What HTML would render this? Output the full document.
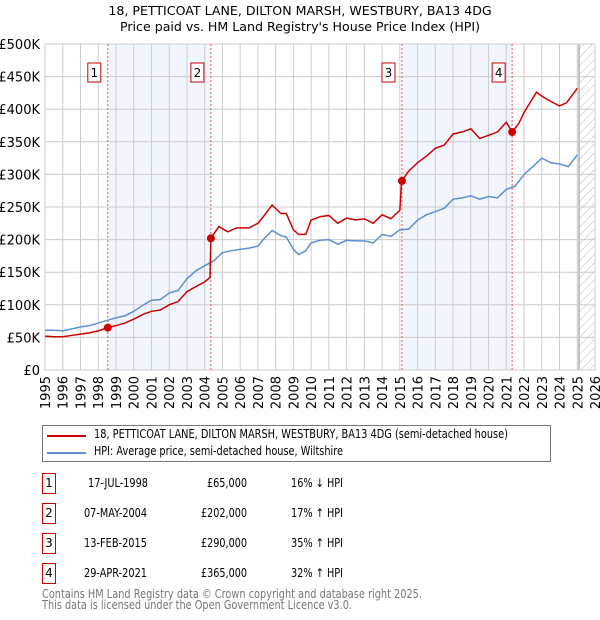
<!DOCTYPE html>
<html><head><meta charset="utf-8"><style>
body{margin:0;background:#fff;font-family:"DejaVu Sans","Liberation Sans",sans-serif;}
#wrap{position:relative;width:600px;height:620px;overflow:hidden;}
.t{position:absolute;font-size:12px;color:#000;white-space:nowrap;transform-origin:0 0;}
.box{position:absolute;width:12px;height:19px;border:1px solid #c00;font-size:12px;text-align:center;line-height:19px;}
</style></head><body><div id="wrap">
<svg id="chart" width="600" height="420" style="position:absolute;left:0;top:0">
<defs><pattern id="hatch" width="6" height="6" patternUnits="userSpaceOnUse" patternTransform="rotate(45)"><line x1="0" y1="0" x2="0" y2="6" stroke="#bbb" stroke-width="1"/></pattern></defs>
<text x="300" y="15" text-anchor="middle" font-size="12.6">18, PETTICOAT LANE, DILTON MARSH, WESTBURY, BA13 4DG</text>
<text x="300" y="31" text-anchor="middle" font-size="12.6">Price paid vs. HM Land Registry's House Price Index (HPI)</text>
<g id="g"></g>
</svg>
<div style="position:absolute;left:42px;top:425px;width:507px;height:35px;border:1px solid #777">
<div style="position:absolute;left:4px;top:9px;width:39px;height:2px;background:#c00"></div>
<div class="t" data-w="414" style="left:51px;top:1px">18, PETTICOAT LANE, DILTON MARSH, WESTBURY, BA13 4DG (semi-detached house)</div>
<div style="position:absolute;left:4px;top:26px;width:39px;height:2px;background:#5b8fd0"></div>
<div class="t" data-w="249" style="left:51px;top:18px">HPI: Average price, semi-detached house, Wiltshire</div>
</div>
<div id="tbl"></div>
<div class="t" data-w="380" style="left:42px;top:587px;color:#777">Contains HM Land Registry data © Crown copyright and database right 2025.</div>
<div class="t" data-w="310" style="left:42px;top:598px;color:#777">This data is licensed under the Open Government Licence v3.0.</div>
</div>
<script>
const hpiYears=[1995,1995.5,1996,1996.5,1997,1997.5,1998,1998.5,1999,1999.5,2000,2000.5,2001,2001.5,2002,2002.5,2003,2003.5,2004,2004.5,2005,2005.5,2006,2006.5,2007,2007.3,2007.8,2008.3,2008.6,2009,2009.3,2009.7,2010,2010.5,2011,2011.5,2012,2012.5,2013,2013.5,2014,2014.5,2015,2015.5,2016,2016.5,2017,2017.5,2018,2018.5,2019,2019.5,2020,2020.5,2021,2021.5,2022,2022.5,2023,2023.5,2024,2024.5,2025];
const hpiValues=[61,61,60,63,66,68,72,76,80,83,90,99,107,108,118,122,140,152,160,167,180,183,185,187,190,200,214,206,204,185,177,183,195,199,200,193,199,198,198,195,208,205,215,216,230,238,243,248,262,264,267,262,266,264,277,282,300,312,325,318,316,312,330];
const redYears=[1995,1995.5,1996,1996.5,1997,1997.5,1998,1998.54,1999,1999.5,2000,2000.5,2001,2001.5,2002,2002.5,2003,2003.5,2004,2004.3,2004.35,2004.8,2005.3,2005.8,2006.5,2007,2007.3,2007.8,2008.3,2008.6,2009,2009.3,2009.7,2010,2010.5,2011,2011.5,2012,2012.5,2013,2013.5,2014,2014.5,2015,2015.1,2015.5,2016,2016.5,2017,2017.5,2018,2018.5,2019,2019.5,2020,2020.5,2021,2021.33,2021.7,2022,2022.7,2023,2023.5,2024,2024.4,2025];
const redValues=[52,51,51,53,55,57,60,65,68,72,78,85,90,92,100,105,120,128,135,142,202,220,212,218,218,225,235,253,240,240,215,208,208,230,235,237,225,233,230,232,225,238,232,245,290,305,318,328,340,345,362,365,370,355,360,365,380,365,378,395,426,420,412,405,410,432];
const sales=[{n:"1",y:1998.54,v:65,d:"17-JUL-1998",p:"£65,000",h:"16% ↓ HPI"},{n:"2",y:2004.35,v:202,d:"07-MAY-2004",p:"£202,000",h:"17% ↑ HPI"},{n:"3",y:2015.12,v:290,d:"13-FEB-2015",p:"£290,000",h:"35% ↑ HPI"},{n:"4",y:2021.33,v:365,d:"29-APR-2021",p:"£365,000",h:"32% ↑ HPI"}];
const yTicks=[0,50,100,150,200,250,300,350,400,450,500];
const yTickLabels=["£0","£50K","£100K","£150K","£200K","£250K","£300K","£350K","£400K","£450K","£500K"];
const xTicks=[1995,1996,1997,1998,1999,2000,2001,2002,2003,2004,2005,2006,2007,2008,2009,2010,2011,2012,2013,2014,2015,2016,2017,2018,2019,2020,2021,2022,2023,2024,2025,2026];
const X0=45,X1=595,Y0=370,Y1=44;
const xs=y=>X0+(y-1995)/31*(X1-X0);
const ys=v=>Y0-v/500*(Y0-Y1);
const NS="http://www.w3.org/2000/svg";
const g=document.getElementById('g');
function mk(t,a,p){const e=document.createElementNS(NS,t);for(const k in a)e.setAttribute(k,a[k]);(p||g).appendChild(e);return e;}
for(let i=0;i<4;i+=2){const r=mk('rect',{x:xs(sales[i].y),y:Y1,width:xs(sales[i+1].y)-xs(sales[i].y),height:Y0-Y1,fill:'#eef3fd',opacity:0.8});

}
const hr=mk('rect',{x:xs(2025.1),y:Y1,width:X1-xs(2025.1),height:Y0-Y1,fill:'url(#hatch)'});


mk('line',{x1:xs(2025.1),x2:xs(2025.1),y1:Y1,y2:Y0,stroke:'#888','stroke-width':1});
yTicks.forEach((v,i)=>{mk('line',{x1:X0,x2:X1,y1:ys(v),y2:ys(v),stroke:'#ccc'});
const t=mk('text',{x:X0-5,y:ys(v)+5,'text-anchor':'end','font-size':13});t.textContent=yTickLabels[i];

});
xTicks.forEach(y=>{mk('line',{x1:xs(y),x2:xs(y),y1:Y1,y2:Y0,stroke:'#ccc'});
const t=mk('text',{x:0,y:0,'text-anchor':'end','font-size':13,transform:`translate(${xs(y)+5},${Y0+6}) rotate(-90)`});t.textContent=y;

});
mk('rect',{x:X0,y:Y1,width:X1-X0,height:Y0-Y1,fill:'none',stroke:'#ccc'});
sales.forEach(s=>{mk('line',{x1:xs(s.y),x2:xs(s.y),y1:Y1,y2:Y0,stroke:'#e55','stroke-dasharray':'2,2'});
mk('rect',{x:xs(s.y)-20,y:63,width:13,height:19,fill:'#fff',stroke:'#c00'});
const t=mk('text',{x:xs(s.y)-13.5,y:77,'text-anchor':'middle','font-size':12});t.textContent=s.n;

});
const hp=mk('polyline',{points:hpiYears.map((y,i)=>xs(y)+','+ys(hpiValues[i])).join(' '),fill:'none',stroke:'#5b8fd0','stroke-width':1.5});


const rp=mk('polyline',{points:redYears.map((y,i)=>xs(y)+','+ys(redValues[i])).join(' '),fill:'none',stroke:'#c00','stroke-width':1.5});


sales.forEach(s=>{const c=mk('circle',{cx:xs(s.y),cy:ys(s.v),r:4,fill:'#c00'});

});
const tb=document.getElementById('tbl');
const dateLeft=[88,84,84,84],dateW=[60,63,63,63],priceW=[40,46,46,46],hpiW=52;
sales.forEach((s,i)=>{const top=473+i*30;
const b=document.createElement('div');b.className='box';b.style.left='42px';b.style.top=top+'px';b.textContent=s.n;


tb.appendChild(b);
const d1=document.createElement('div');d1.className='t';d1.style.top=(top+3)+'px';d1.style.left=dateLeft[i]+'px';d1.textContent=s.d;d1.dataset.w=dateW[i];


tb.appendChild(d1);
const d2=document.createElement('div');d2.className='t';d2.style.top=(top+3)+'px';d2.style.left=(247-priceW[i])+'px';d2.textContent=s.p;d2.dataset.w=priceW[i];


tb.appendChild(d2);
const d3=document.createElement('div');d3.className='t';d3.style.top=(top+3)+'px';d3.style.left='291px';d3.textContent=s.h;d3.dataset.w=hpiW;


tb.appendChild(d3);});
document.querySelectorAll('[data-w]').forEach(e=>{const w=e.getBoundingClientRect().width;const tw=+e.dataset.w;if(w>0)e.style.transform='scaleX('+(tw/w)+')';});
</script></body></html>
